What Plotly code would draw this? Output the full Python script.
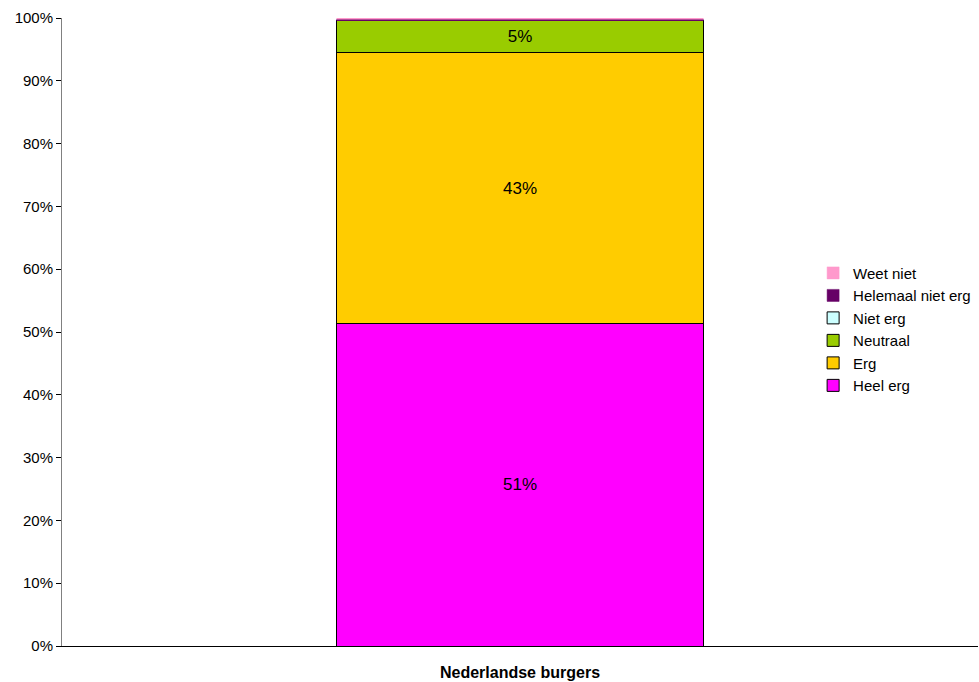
import plotly.graph_objects as go

categories = ["Nederlandse burgers"]
series_names = ["Heel erg", "Erg", "Neutraal", "Niet erg", "Helemaal niet erg", "Weet niet"]
heel_erg = [0.513]
erg = [0.432]
neutraal = [0.051]
niet_erg = [0.0]
helemaal_niet_erg = [0.002]
weet_niet = [0.002]
series_values = [heel_erg, erg, neutraal, niet_erg, helemaal_niet_erg, weet_niet]
colors = ["#FF00FF", "#FFCC00", "#99CC00", "#CCFFFF", "#660066", "#FF99CC"]
y_ticks = [i / 10 for i in range(11)]
y_tick_labels = [f"{i * 10}%" for i in range(11)]

fig = go.Figure()
for name, vals, col in zip(series_names, series_values, colors):
    txt = [f"{round(v * 100)}%" if v >= 0.02 else "" for v in vals]
    tiny = 0 < max(vals) < 0.02
    fig.add_trace(go.Bar(
        x=categories, y=vals, name=name,
        marker=dict(color=col, line=dict(color=col if tiny else "#000000", width=0.5 if tiny else 1)),
        text=txt, textposition="inside", insidetextanchor="middle",
        textangle=0, textfont=dict(size=17, color="#000000", family="Liberation Sans, Arial"),
        legendgroup=name, hoverinfo="skip",
    ))

fig.update_layout(
    barmode="stack", bargap=0.6,
    width=979, height=682,
    margin=dict(l=62, r=1, t=18, b=36, autoexpand=False),
    plot_bgcolor="#FFFFFF", paper_bgcolor="#FFFFFF",
    font=dict(family="Liberation Sans, Arial", size=15, color="#000000"),
    legend=dict(
        x=0.82, y=0.62, xanchor="left", yanchor="top",
        traceorder="reversed", tracegroupgap=3,
        font=dict(size=15), itemwidth=30,
        bgcolor="rgba(255,255,255,0)",
    ),
    showlegend=True,
)
fig.update_yaxes(
    range=[0, 1], tickvals=y_ticks, ticktext=y_tick_labels,
    showgrid=False, zeroline=False, showline=True, linecolor="#808080", linewidth=1,
    ticks="outside", ticklen=5, tickcolor="#000000",
    tickfont=dict(size=15),
)
fig.update_xaxes(
    range=[-0.5, 0.5], showgrid=False, zeroline=False,
    showline=True, linecolor="#000000", linewidth=1,
    ticks="", ticklabelstandoff=12,
    tickfont=dict(size=16, family="Liberation Sans, Arial", weight="bold"),
)

fig.write_html(
    "out.html",
    config={"displayModeBar": False},
    post_script="document.body.style.margin='0';document.body.style.overflow='hidden';",
)
